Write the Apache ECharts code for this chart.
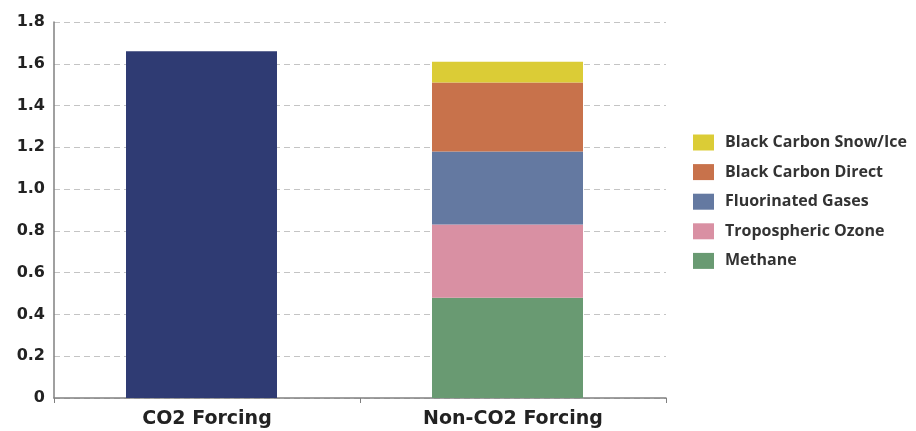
<!DOCTYPE html>
<html>
<head>
<meta charset="utf-8">
<script src="https://cdn.jsdelivr.net/npm/echarts@6/dist/echarts.min.js"></script>
<style>
  html, body { margin: 0; padding: 0; background: #fff; }
  #chart { width: 916px; height: 431px; }
</style>
</head>
<body>
<div id="chart"></div>
<script>
// Radiative forcing (W/m²): CO2 versus the non-CO2 contributors
const categories = ['CO2 Forcing', 'Non-CO2 Forcing'];
const co2Forcing = [1.66, '-'];
const methane = ['-', 0.48];
const troposphericOzone = ['-', 0.35];
const fluorinatedGases = ['-', 0.35];
const blackCarbonDirect = ['-', 0.33];
const blackCarbonSnowIce = ['-', 0.10];
const yTicks = [0, 0.2, 0.4, 0.6, 0.8, 1.0, 1.2, 1.4, 1.6, 1.8];

const legendOrder = ['Black Carbon Snow/Ice', 'Black Carbon Direct', 'Fluorinated Gases', 'Tropospheric Ozone', 'Methane'];

function stackSeries(name, data, color) {
  return {
    name: name,
    type: 'bar',
    stack: 'forcing',
    data: data,
    barWidth: 151,
    barGap: 0,
    itemStyle: { color: color },
    emphasis: { disabled: true }
  };
}

const chart = echarts.init(document.getElementById('chart'), null, { renderer: 'canvas' });
chart.setOption({
  animation: false,
  grid: { left: 54, right: 250, top: 22, bottom: 33, containLabel: false },
  legend: {
    data: legendOrder,
    orient: 'vertical',
    left: 688,
    top: 129,
    itemWidth: 21,
    itemHeight: 16,
    itemGap: 12.6,
    icon: 'rect',
    textStyle: {
      fontFamily: 'Open Sans', fontWeight: 'bold', fontSize: 16, lineHeight: 17,
      color: '#333', padding: [0, 0, 0, 6]
    },
    selectedMode: false
  },
  xAxis: {
    type: 'category',
    data: categories,
    axisLine: { lineStyle: { color: '#808080', width: 1.5 } },
    axisTick: { show: true, length: 5, lineStyle: { color: '#808080' } },
    axisLabel: { fontFamily: 'DejaVu Sans', fontWeight: 'bold', fontSize: 19, color: '#222', margin: 12 }
  },
  yAxis: {
    type: 'value',
    min: 0,
    max: 1.8,
    interval: 0.2,
    axisLine: { show: true, lineStyle: { color: '#808080', width: 1.5 } },
    axisTick: { show: false },
    axisLabel: {
      fontFamily: 'DejaVu Sans', fontWeight: 'bold', fontSize: 16, color: '#222', margin: 9,
      formatter: function (v) {
        const t = yTicks.find(function (k) { return Math.abs(k - v) < 1e-9; });
        if (t === undefined) return '';
        return t === 0 ? '0' : t.toFixed(1);
      }
    },
    splitLine: { show: true, lineStyle: { color: '#c4c4c4', type: [6, 4], width: 1 } }
  },
  series: [
    stackSeries('CO2', co2Forcing, '#2f3b73'),
    stackSeries('Methane', methane, '#699a72'),
    stackSeries('Tropospheric Ozone', troposphericOzone, '#d990a3'),
    stackSeries('Fluorinated Gases', fluorinatedGases, '#6479a1'),
    stackSeries('Black Carbon Direct', blackCarbonDirect, '#c8724b'),
    stackSeries('Black Carbon Snow/Ice', blackCarbonSnowIce, '#dbcc36'),
    // empty slot to the right of each stack, nudging the stacks a little left of the band centre
    { name: 'spacer', type: 'bar', stack: 'spacer', data: ['-', '-'], barWidth: 11, barGap: 0, silent: true }
  ]
});
</script>
</body>
</html>
